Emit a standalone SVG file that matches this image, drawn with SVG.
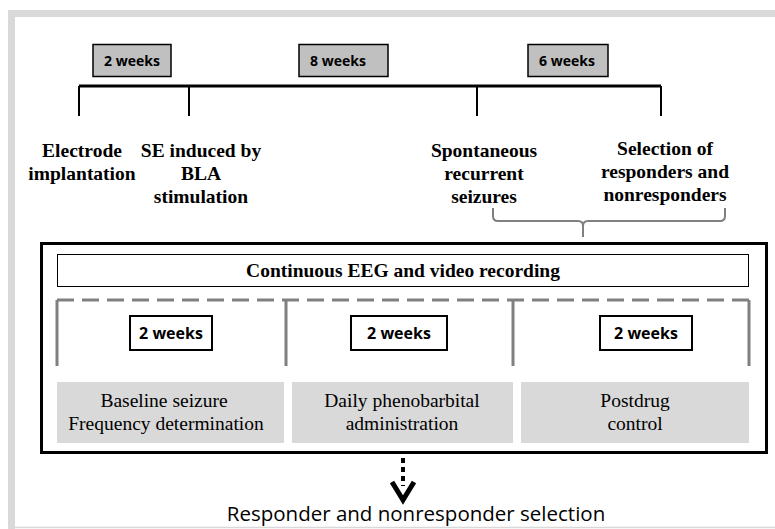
<svg xmlns="http://www.w3.org/2000/svg" width="775" height="529" viewBox="0 0 775 529">
<style>
.frame{fill:none;stroke:#d9d9d9}
.tl{stroke:#000;stroke-width:3;fill:none}
.tick{stroke:#000;stroke-width:2;fill:none}
.gbox{fill:#c0c0c0;stroke:#000;stroke-width:1.5}
.wbox{fill:#fff;stroke:#000;stroke-width:2}
.lbl{font-family:"Liberation Serif","Times New Roman",serif;font-weight:bold;font-size:19.5px;text-anchor:middle;fill:#000}
.sans{font-family:"Open Sans","Liberation Sans",sans-serif;font-weight:bold;font-size:14px;text-anchor:middle;fill:#000}
.cell{fill:#d9d9d9}
.ctext{font-family:"Liberation Serif","Times New Roman",serif;font-size:19.5px;text-anchor:middle;fill:#000}
.dash{stroke:#808080;stroke-width:3;fill:none}
.brace{stroke:#808080;stroke-width:2;fill:none}
</style>
<rect x="0" y="0" width="775" height="529" fill="#fff"/>
<g id="frame">
<rect x="8" y="10" width="7" height="519" fill="#d9d9d9"/>
<rect x="8" y="10" width="767" height="7" fill="#d9d9d9"/>
<line x1="15" y1="527.5" x2="775" y2="527.5" stroke="#d9d9d9" stroke-width="1.5"/>
</g>
<g id="timeline">
<line class="tl" x1="79" y1="86" x2="661" y2="86"/>
<line class="tick" x1="79" y1="86" x2="79" y2="116"/>
<line class="tick" x1="189" y1="86" x2="189" y2="116"/>
<line class="tick" x1="477" y1="86" x2="477" y2="116"/>
<line class="tick" x1="661" y1="86" x2="661" y2="116"/>
</g>
<g id="w2"><rect class="gbox" x="93" y="44.5" width="78" height="32"/><text class="sans" x="132" y="66">2 weeks</text></g>
<g id="w8"><rect class="gbox" x="299" y="44.5" width="89" height="32"/><text class="sans" x="338" y="66">8 weeks</text></g>
<g id="w6"><rect class="gbox" x="528" y="44.5" width="80" height="32"/><text class="sans" x="567" y="66">6 weeks</text></g>
<g id="electrode"><text class="lbl" x="82" y="157">Electrode</text><text class="lbl" x="82" y="180">implantation</text></g>
<g id="se"><text class="lbl" x="201" y="157">SE induced by</text><text class="lbl" x="201" y="180">BLA</text><text class="lbl" x="201" y="203">stimulation</text></g>
<g id="spont"><text class="lbl" x="484" y="157">Spontaneous</text><text class="lbl" x="484" y="180">recurrent</text><text class="lbl" x="484" y="203">seizures</text></g>
<g id="selection"><text class="lbl" x="665" y="155">Selection of</text><text class="lbl" x="665" y="178">responders and</text><text class="lbl" x="665" y="201">nonresponders</text></g>
<g id="connectors">
<path class="brace" d="M493,208 V216 Q493,221 498,221 H578 Q583,221 583,226 Q583,221 588,221 H720 Q725,221 725,216 V208 M583,226 V237"/>
<path d="M403,458 V486" stroke="#000" stroke-width="4" stroke-dasharray="5,4" fill="none"/>
<path d="M392,482 L403,500 L414,482" stroke="#000" stroke-width="5" fill="none" stroke-linejoin="miter"/>
</g>
<g id="main">
<rect x="41.5" y="243.5" width="725" height="209" fill="none" stroke="#000" stroke-width="3"/>
</g>
<g id="eeg">
<rect x="57.5" y="254.5" width="691" height="32" fill="#fff" stroke="#000" stroke-width="1"/>
<text class="lbl" x="403" y="277">Continuous EEG and video recording</text>
</g>
<g id="phases">
<path class="dash" d="M57,300 H749" stroke-dasharray="17,8"/>
<path class="dash" d="M57,300 V366 M286,300 V366 M513,300 V366 M749,300 V366" stroke-width="2.5"/>
</g>
<g id="p1w"><rect class="wbox" x="130" y="316" width="82" height="34"/><text class="sans" x="171" y="339" style="font-size:16px">2 weeks</text></g>
<g id="p2w"><rect class="wbox" x="351" y="316" width="96" height="34"/><text class="sans" x="399" y="339" style="font-size:16px">2 weeks</text></g>
<g id="p3w"><rect class="wbox" x="600" y="316" width="92" height="34"/><text class="sans" x="646" y="339" style="font-size:16px">2 weeks</text></g>
<g id="baseline"><rect class="cell" x="57" y="382" width="227" height="61"/><text class="ctext" x="164" y="407">Baseline seizure</text><text class="ctext" x="166" y="430">Frequency determination</text></g>
<g id="daily"><rect class="cell" x="292" y="382" width="221" height="61"/><text class="ctext" x="402" y="407">Daily phenobarbital</text><text class="ctext" x="402" y="430">administration</text></g>
<g id="postdrug"><rect class="cell" x="521" y="382" width="228" height="61"/><text class="ctext" x="635" y="407">Postdrug</text><text class="ctext" x="635" y="430">control</text></g>
<g id="result"><text x="416" y="521" style="font-family:'Open Sans','Liberation Sans',sans-serif;font-size:20.5px;text-anchor:middle;fill:#000">Responder and nonresponder selection</text></g>
</svg>
